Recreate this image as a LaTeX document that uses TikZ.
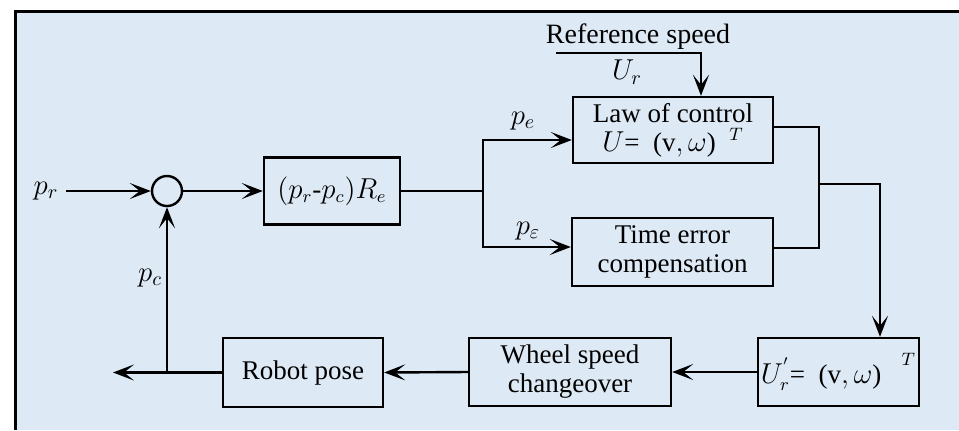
\documentclass[tikz,border=0pt]{standalone}
\usepackage{fontspec}
\setmainfont{Liberation Serif}
\usetikzlibrary{arrows.meta}
\definecolor{bgblue}{RGB}{221,233,245}
\tikzset{
  px/.style={x=0.5pt,y=-0.5pt},
  box/.style={draw,line width=1.2pt,align=center,inner sep=1pt,font=\fontsize{13.5}{14.5}\selectfont},
  lbl/.style={inner sep=0pt,font=\fontsize{14}{15}\selectfont},
  conn/.style={line width=1.2pt},
  arr/.style={conn,-{Stealth[length=10.5pt,width=8pt,inset=5pt]}}
}
\begin{document}
\begin{tikzpicture}[px]
\useasboundingbox (0,0) rectangle (959,430);
\fill[white] (0,0) rectangle (959,430);
\fill[bgblue] (15,11) rectangle (959,430);
\draw[line width=1.7pt] (15.5,430) -- (15.5,11.5) -- (959,11.5);

\node[draw,circle,line width=1.2pt,minimum size=15pt,inner sep=0pt] (sum) at (167,191) {};
\node[box,minimum width=68pt,minimum height=33.5pt] (b1) at (332,191) {$(p_r$-$p_c)R_e$};
\node[box,minimum width=100pt,minimum height=33pt] (law) at (673,130) {Law of control\\$U$= \ ($\mathrm{v},\omega$)\ \ $^{T}$};
\node[box,minimum width=100.5pt,minimum height=34pt] (te) at (672.5,252) {Time error\\compensation};
\node[box,minimum width=80.5pt,minimum height=34pt] (ur) at (838.5,372) {$U_r^{'}$= \ ($\mathrm{v},\omega$)\ \ \ \raisebox{4pt}{$^{T}$}};
\node[box,minimum width=101pt,minimum height=34pt] (wh) at (570,372) {Wheel speed\\changeover};
\node[box,minimum width=80pt,minimum height=34.5pt] (rp) at (303,372.5) {Robot pose};

\node[lbl] (lpr) at (46,191) {$p_r$};
\node[lbl] (lpe) at (523,121) {$p_e$};
\node[lbl] (lpeps) at (528,231) {$p_\varepsilon$};
\node[lbl] (lpc) at (150,278) {$p_c$};
\node[lbl] (lur) at (627,72) {$U_r$};
\node[lbl] (lrs) at (638,37) {Reference speed};

\coordinate (in) at (66,191);
\coordinate (split) at (483,191);
\coordinate (pe) at (0,140);
\coordinate (peps) at (0,247);
\coordinate (rs) at (556,53);
\coordinate (rsx) at (701,0);
\coordinate (lawout) at (0,127);
\coordinate (teout) at (0,248);
\coordinate (m1) at (819,184);
\coordinate (c2) at (880,0);
\coordinate (out) at (113,372.5);
\coordinate (br) at (167,372.5);

\draw[arr] (in) -- (sum.west);
\draw[arr] (sum.east) -- (b1.west);
\draw[conn] (b1.east) -- (split);
\draw[arr] (split) |- (law.west |- pe);
\draw[arr] (split) |- (te.west |- peps);
\draw[arr] (rs) -| (law.north -| rsx);
\draw[conn] (law.east |- lawout) -| (m1);
\draw[conn] (te.east |- teout) -| (m1);
\draw[arr] (m1) -| (ur.north -| c2);
\draw[arr] (ur.west) -- (wh.east);
\draw[arr] (wh.west) -- (rp.east);
\draw[arr] (rp.west) -- (out);
\draw[arr] (br) -- (sum.south);
\end{tikzpicture}
\end{document}
